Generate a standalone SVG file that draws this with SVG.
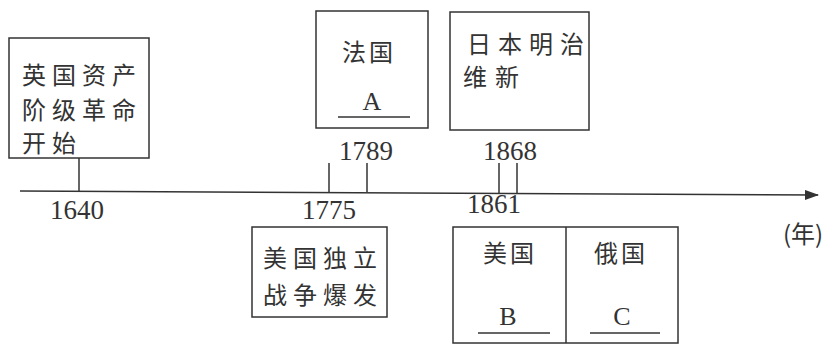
<svg xmlns="http://www.w3.org/2000/svg" width="827" height="345" viewBox="0 0 827 345">
<defs>
<style>
.box{fill:#fff;stroke:#333;stroke-width:1.5}
.ln{stroke:#333;stroke-width:1.5;fill:none}
.zh{font-family:"Noto Sans CJK SC","Noto Sans",sans-serif;font-size:24px;fill:#333}
.num{font-family:"Liberation Serif",serif;font-size:27px;fill:#333}
.let{font-family:"Liberation Serif",serif;font-size:26px;fill:#333;text-anchor:middle}
</style>
<marker id="arr" markerWidth="14" markerHeight="10" refX="13" refY="5" orient="auto" markerUnits="userSpaceOnUse">
<path d="M0,0 L14,5 L0,10 Z" fill="#333"/>
</marker>
</defs>
<rect width="827" height="345" fill="#fff"/>
<g id="connectors">
<line class="ln" x1="20" y1="191" x2="818" y2="195" marker-end="url(#arr)"/>
<line class="ln" x1="79" y1="158" x2="79" y2="191"/>
<line class="ln" x1="329" y1="163" x2="329" y2="192"/>
<line class="ln" x1="367" y1="163" x2="367" y2="192"/>
<line class="ln" x1="499" y1="163" x2="499" y2="193"/>
<line class="ln" x1="517" y1="163" x2="517" y2="193"/>
</g>
<g id="node-1640">
<rect class="box" x="9" y="38" width="140" height="120"/>
<text class="zh" x="22" y="84" letter-spacing="6">英国资产</text>
<text class="zh" x="22" y="119" letter-spacing="6">阶级革命</text>
<text class="zh" x="22" y="152" letter-spacing="6">开始</text>
<text class="num" x="50" y="219">1640</text>
</g>
<g id="node-1789">
<rect class="box" x="316" y="11" width="112" height="117"/>
<text class="zh" x="342" y="61" letter-spacing="3">法国</text>
<text class="let" x="372" y="110">A</text>
<line class="ln" x1="338" y1="117" x2="410" y2="117"/>
<text class="num" x="339" y="160">1789</text>
</g>
<g id="node-1868">
<rect class="box" x="450" y="12" width="139" height="118"/>
<text class="zh" x="467" y="53" font-size="21" letter-spacing="7">日本明治</text>
<text class="zh" x="463" y="86" font-size="21" letter-spacing="8">维新</text>
<text class="num" x="483" y="160">1868</text>
</g>
<g id="node-1775">
<text class="num" x="302" y="219">1775</text>
<rect class="box" x="252" y="227" width="135" height="90"/>
<text class="zh" x="263" y="267" letter-spacing="6">美国独立</text>
<text class="zh" x="263" y="304" letter-spacing="6">战争爆发</text>
</g>
<g id="node-1861">
<text class="num" x="467" y="213">1861</text>
<rect class="box" x="453" y="227" width="225" height="116"/>
<line class="ln" x1="566" y1="227" x2="566" y2="343"/>
<text class="zh" x="483" y="262" letter-spacing="3">美国</text>
<text class="let" x="508" y="325">B</text>
<line class="ln" x1="478" y1="333" x2="550" y2="333"/>
<text class="zh" x="594" y="262" letter-spacing="3">俄国</text>
<text class="let" x="622" y="325">C</text>
<line class="ln" x1="590" y1="333" x2="660" y2="333"/>
</g>
<g id="unit">
<text class="zh" x="783" y="243" font-size="22">(年)</text>
</g>
</svg>
